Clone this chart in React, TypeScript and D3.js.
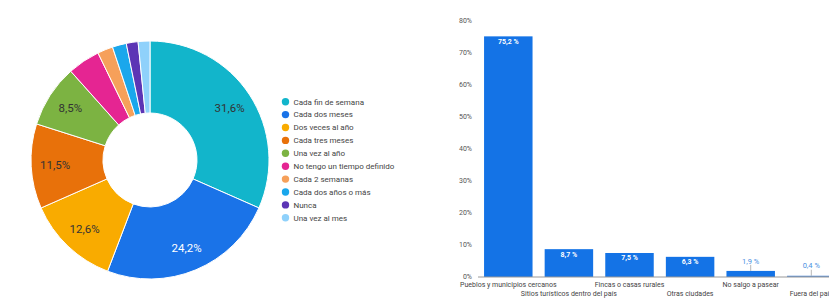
import React from "react";
import * as d3 from "d3";

// Frecuencia de salida (donut)
const freqLabels = [
  "Cada fin de semana",
  "Cada dos meses",
  "Dos veces al año",
  "Cada tres meses",
  "Una vez al año",
  "No tengo un tiempo definido",
  "Cada 2 semanas",
  "Cada dos años o más",
  "Nunca",
  "Una vez al mes",
];
const freqValues = [31.6, 24.2, 12.6, 11.5, 8.5, 4.4, 2.1, 1.9, 1.6, 1.6];
const freqColors = [
  "#12b5cb",
  "#1a73e8",
  "#f9ab00",
  "#e8710a",
  "#7cb342",
  "#e52592",
  "#f6a05a",
  "#1aa7ec",
  "#5c35b5",
  "#8fd1fb",
];

// Destinos (barras)
const destLabels = [
  "Pueblos y municipios cercanos",
  "Sitios turísticos dentro del país",
  "Fincas o casas rurales",
  "Otras ciudades",
  "No salgo a pasear",
  "Fuera del país",
];
const destValues = [75.2, 8.7, 7.5, 6.3, 1.9, 0.4];
const yTicks = [0, 10, 20, 30, 40, 50, 60, 70, 80];

const fmt = (v: number) => v.toFixed(1).replace(".", ",");

export default function App() {
  const W = 829;
  const H = 304;
  const font = "Roboto, 'Noto Sans', sans-serif";

  // donut
  const cx = 150;
  const cy = 160;
  const rOuter = 119;
  const rInner = 47;
  const pie = d3.pie<number>().sort(null).value((d) => d)(freqValues);
  const arc = d3.arc<d3.PieArcDatum<number>>().innerRadius(rInner).outerRadius(rOuter);
  const labelArc = d3.arc<d3.PieArcDatum<number>>().innerRadius(95).outerRadius(95);

  // bars
  const x = d3.scaleBand<string>().domain(destLabels).range([478, 478 + 6 * 60.6]).paddingInner(0.2).paddingOuter(0.1);
  const y = d3.scaleLinear().domain([0, 80]).range([277, 21]);
  const barColor = "#1473e6";

  return (
    <svg width={W} height={H} style={{ position: "absolute", left: 0, top: 0, background: "#fff" }} fontFamily={font}>
      <g transform={`translate(${cx},${cy})`}>
        {pie.map((p, i) => (
          <path key={i} d={arc(p) || ""} fill={freqColors[i]} stroke="#fff" strokeWidth={1} />
        ))}
        {pie.map((p, i) => {
          if (freqValues[i] < 5) return null;
          const [lx, ly] = labelArc.centroid(p);
          return (
            <text key={"l" + i} x={lx} y={ly} dy="0.35em" textAnchor="middle" fontSize={11.5}
              fill={i === 1 ? "#ffffff" : "#333333"}>
              {fmt(freqValues[i])}%
            </text>
          );
        })}
      </g>

      {/* legend */}
      <g>
        {freqLabels.map((l, i) => (
          <g key={l} transform={`translate(285.5,${101.7 + i * 12.9})`}>
            <circle r={3.7} fill={freqColors[i]} />
            <text x={8} dy="0.35em" fontSize={8} fill="#444">{l}</text>
          </g>
        ))}
      </g>

      {/* bar chart */}
      <g>
        {yTicks.map((t) => (
          <text key={t} x={472} y={y(t)} dy="0.35em" textAnchor="end" fontSize={7} fill="#555">
            {t}%
          </text>
        ))}
        {destLabels.map((d, i) => {
          const v = destValues[i];
          const bx = x(d)!;
          const bw = x.bandwidth();
          const top = y(v);
          const h = y(0) - top;
          const inside = h > 12;
          const c = bx + bw / 2;
          return (
            <g key={d}>
              <rect x={bx} y={top} width={bw} height={Math.max(h, 1.3)} fill={i === 5 ? "#5b8fd6" : barColor} />
              {inside ? (
                <text x={c} y={top + 5} dy="0.35em" textAnchor="middle" fontSize={7} fontWeight={700} fill="#fff">
                  {fmt(v)} %
                </text>
              ) : (
                <g>
                  <line x1={c} x2={c} y1={top - 6} y2={top} stroke="#888" strokeWidth={0.6} />
                  <text x={c} y={top - 10} dy="0.35em" textAnchor="middle" fontSize={7.5} fill="#4a90e2">
                    {fmt(v)} %
                  </text>
                </g>
              )}
              <text x={c} y={i % 2 === 0 ? 285 : 294} dy="0.35em" textAnchor="middle" fontSize={7} fill="#444">
                {d}
              </text>
            </g>
          );
        })}
        <line x1={478} x2={W} y1={y(0)} y2={y(0)} stroke="#999" strokeWidth={1} />
      </g>
    </svg>
  );
}
